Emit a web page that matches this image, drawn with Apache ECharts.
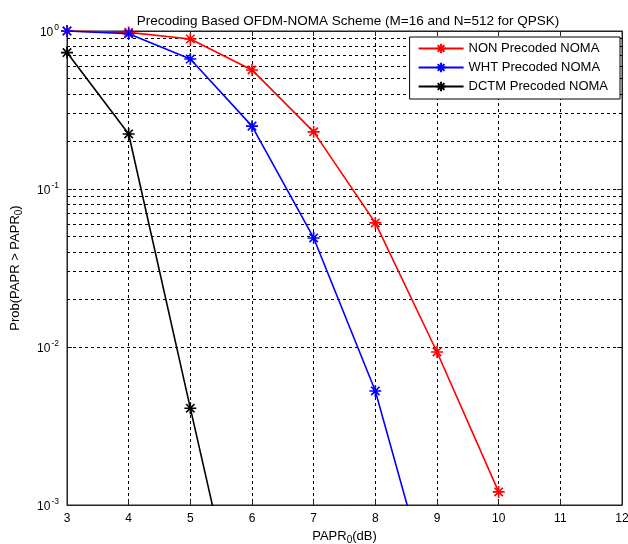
<!DOCTYPE html>
<html>
<head>
<meta charset="utf-8">
<script src="https://cdn.jsdelivr.net/npm/echarts@6/dist/echarts.min.js"></script>
<style>
  html, body { margin: 0; padding: 0; background: #fff; }
  #chart { width: 628px; height: 544px; }
</style>
</head>
<body>
<div id="chart"></div>
<script>
// PAPR threshold in dB
const paprDb = [3, 4, 5, 6, 7, 8, 9, 10];

// CCDF of PAPR for each precoding scheme
const nonPrecoded = [1.0, 0.98, 0.89, 0.567, 0.23, 0.061, 0.0093, 0.00121];
const whtPrecoded = [1.0, 0.96, 0.665, 0.25, 0.049, 0.00527, 0.00021];
const dctmPrecoded = [0.73, 0.223, 0.0041, 0.000079];

const seriesNames = ['NON Precoded NOMA', 'WHT Precoded NOMA', 'DCTM Precoded NOMA'];
const seriesColors = ['#ff0000', '#0000ff', '#000000'];

// minor grid lines inside each decade (2..9 x 10^k)
const minorMultipliers = [2, 3, 4, 5, 6, 7, 8, 9];
const decades = [0.001, 0.01, 0.1];

const asterisk = 'path://M0,-10L0,10M-10,0L10,0M-7,-7L7,7M-7,7L7,-7';
const font = 'Liberation Sans, Arial, sans-serif';

function pairs(ys) {
  return ys.map((y, i) => [paprDb[i], y]);
}

const minorLines = [];
decades.forEach(d => minorMultipliers.forEach(m => minorLines.push({ yAxis: +(d * m).toPrecision(3) })));

const dataSets = [nonPrecoded, whtPrecoded, dctmPrecoded];

const series = dataSets.map((ys, i) => ({
  name: seriesNames[i],
  type: 'line',
  data: pairs(ys),
  symbol: asterisk,
  symbolSize: 12,
  z: 5 + i,
  lineStyle: { color: seriesColors[i], width: 1.6 },
  itemStyle: { color: seriesColors[i], borderColor: seriesColors[i], borderWidth: 1.6 },
  clip: true
}));

// dashed minor grid
series.push({
  type: 'line',
  data: [],
  silent: true,
  z: 1,
  markLine: {
    silent: true,
    symbol: 'none',
    label: { show: false },
    lineStyle: { color: '#000', type: [3, 3], width: 1 },
    data: minorLines
  }
});

const chart = echarts.init(document.getElementById('chart'), null, { renderer: 'canvas' });

const supRich = {
  b: { fontSize: 12, fontFamily: font, color: '#000', lineHeight: 16, verticalAlign: 'bottom' },
  s: { fontSize: 8.5, fontFamily: font, color: '#000', verticalAlign: 'top', padding: [0, 0, 7, 1] }
};

chart.setOption({
  animation: false,
  backgroundColor: '#fff',
  title: {
    text: 'Precoding Based OFDM-NOMA Scheme (M=16 and N=512 for QPSK)',
    left: 343,
    textAlign: 'center',
    top: 9,
    textStyle: { fontSize: 13.5, fontWeight: 'normal', fontFamily: font, color: '#000' }
  },
  legend: {
    data: seriesNames,
    orient: 'vertical',
    right: 8,
    top: 37,
    z: 20,
    itemWidth: 45,
    itemHeight: 12,
    itemGap: 6,
    padding: [5, 12, 6, 8],
    backgroundColor: '#fff',
    borderColor: '#000',
    borderWidth: 1,
    textStyle: { fontSize: 13, fontFamily: font, color: '#000' }
  },
  grid: {
    left: 67, right: 6, top: 31, bottom: 39,
    outerBoundsMode: 'none',
    containLabel: false,
    show: true, borderColor: '#222', borderWidth: 1
  },
  xAxis: [{
    type: 'value',
    min: 3, max: 12, interval: 1,
    name: '{n|PAPR}{sub|0}{n|(dB)}',
    nameLocation: 'middle',
    nameGap: 20,
    nameTextStyle: {
      rich: {
        n: { fontSize: 13, fontFamily: font, color: '#000' },
        sub: { fontSize: 10, fontFamily: font, color: '#000', padding: [7, 0, 0, 0] }
      }
    },
    axisLine: { show: true, onZero: false, lineStyle: { color: '#222' } },
    axisTick: { show: true, inside: true, length: 5, lineStyle: { color: '#222' } },
    axisLabel: { fontSize: 12, fontFamily: font, color: '#000', margin: 8 },
    splitLine: { show: true, lineStyle: { color: '#000', type: [3, 3], width: 1 } }
  }, {
    type: 'value', position: 'top',
    min: 3, max: 12, interval: 1,
    axisLine: { show: true, lineStyle: { color: '#222' } },
    axisTick: { show: true, inside: true, length: 5, lineStyle: { color: '#222' } },
    axisLabel: { show: false },
    splitLine: { show: false }
  }],
  yAxis: [{
    type: 'log',
    logBase: 10,
    min: 0.001, max: 1,
    name: '{n|Prob(PAPR > PAPR}{sub|0}{n|)}',
    nameLocation: 'middle',
    nameGap: 43,
    nameRotate: 90,
    nameTextStyle: {
      rich: {
        n: { fontSize: 13, fontFamily: font, color: '#000' },
        sub: { fontSize: 10, fontFamily: font, color: '#000', padding: [7, 0, 0, 0] }
      }
    },
    axisLine: { show: true, onZero: false, lineStyle: { color: '#222' } },
    axisTick: { show: true, inside: true, length: 5, lineStyle: { color: '#222' } },
    axisLabel: {
      margin: 8,
      formatter: v => '{b|10}{s|' + Math.round(Math.log10(v)) + '}',
      rich: supRich
    },
    splitLine: { show: true, lineStyle: { color: '#000', type: [3, 3], width: 1 } }
  }, {
    type: 'log', position: 'right',
    logBase: 10,
    min: 0.001, max: 1,
    axisLine: { show: true, lineStyle: { color: '#222' } },
    axisTick: { show: true, inside: true, length: 5, lineStyle: { color: '#222' } },
    axisLabel: { show: false },
    splitLine: { show: false }
  }],
  series: series
});
</script>
</body>
</html>
